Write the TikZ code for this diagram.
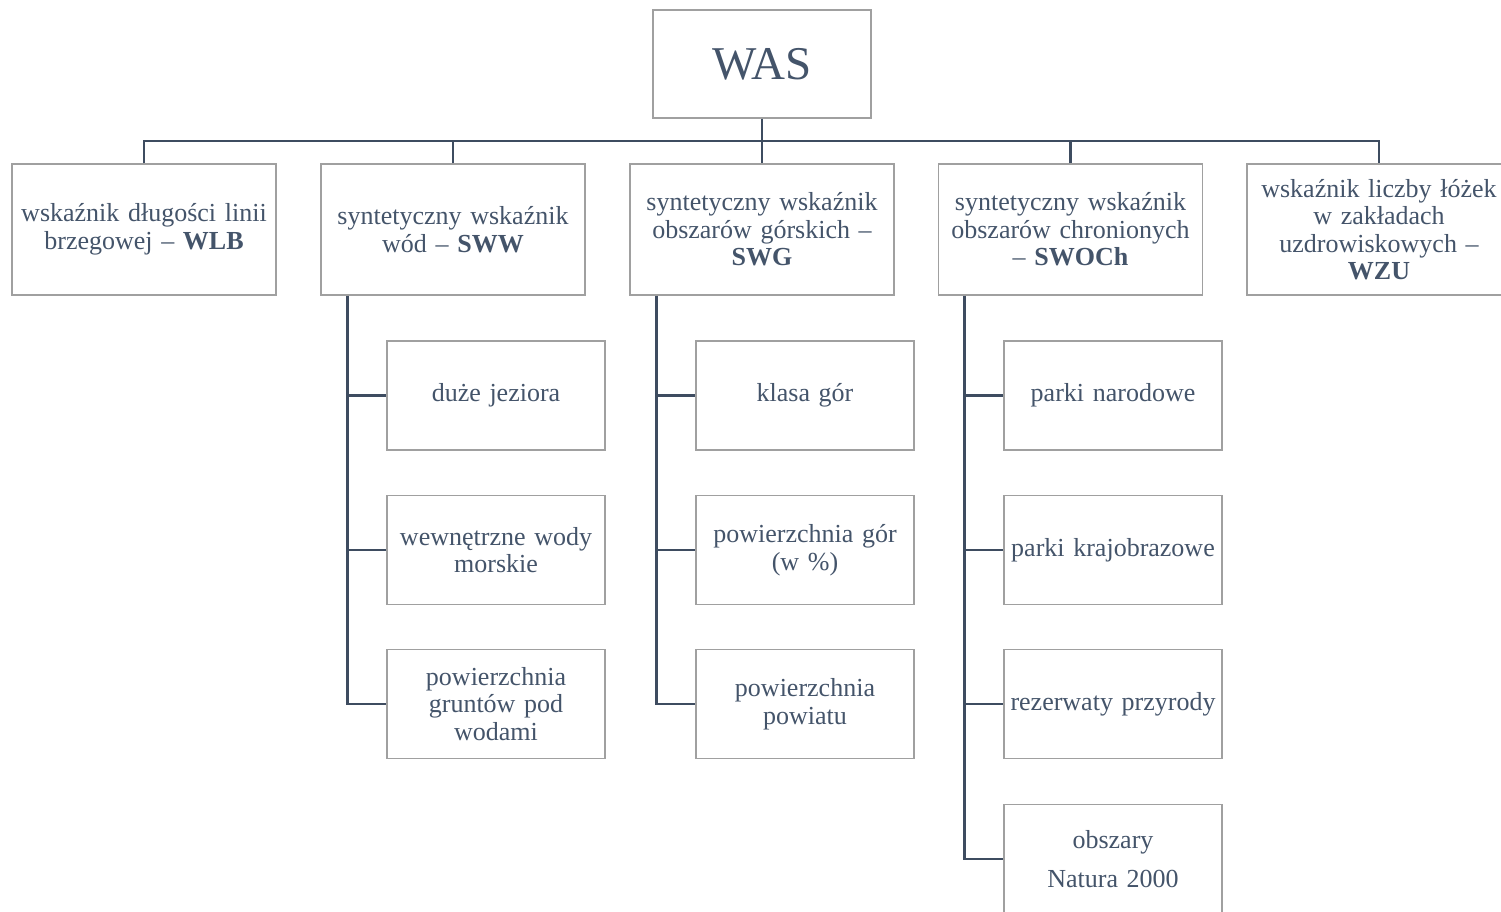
\documentclass[tikz,border=0pt]{standalone}
\usepackage{fontspec}
\setmainfont{Liberation Serif}
\definecolor{txt}{HTML}{44546A}
\definecolor{ln}{HTML}{3E4C60}
\definecolor{bord}{HTML}{A0A0A0}
\begin{document}
\begin{tikzpicture}[x=1pt,y=-1pt,
  box/.style={draw=bord,line width=1.3pt,fill=white,text=txt,align=center,inner sep=0pt,
    font=\fontsize{26}{27.5}\selectfont},
  lone/.style={box,minimum width=264pt,minimum height=131pt,text width=262pt},
  ltwo/.style={box,minimum width=218pt,minimum height=109pt,text width=216pt},
  conn/.style={draw=ln,line width=2.8pt}]
\useasboundingbox (0,0) rectangle (1501,911);
\clip (0,0) rectangle (1501,911);
\node[box,minimum width=218pt,minimum height=108pt,font=\fontsize{47}{50}\selectfont] (was) at (762,64) {WAS};
\node[lone] (b1) at (144,229.5) {wskaźnik długości linii\\brzegowej -- \textbf{WLB}};
\node[lone] (b2) at (453,229.5) {syntetyczny wskaźnik\\wód -- \textbf{SWW}};
\node[lone] (b3) at (762,229.5) {syntetyczny wskaźnik\\obszarów górskich --\\\textbf{SWG}};
\node[lone] (b4) at (1070.5,229.5) {syntetyczny wskaźnik\\obszarów chronionych\\-- \textbf{SWOCh}};
\node[lone] (b5) at (1379,229.5) {wskaźnik liczby łóżek\\w zakładach\\uzdrowiskowych --\\\textbf{WZU}};
\coordinate (bar) at (0,141);
\draw[conn] (b1.north) -- (b1.north |- bar) -- (b5.north |- bar) -- (b5.north);
\draw[conn] (was.south) -- (b3.north);
\draw[conn] (b2.north) -- (b2.north |- bar);
\draw[conn] (b4.north) -- (b4.north |- bar);
% level 2
\node[ltwo] (c21) at (496,395.5) {duże jeziora};
\node[ltwo] (c22) at (496,550) {wewnętrzne wody\\morskie};
\node[ltwo] (c23) at (496,704) {powierzchnia\\gruntów pod\\wodami};
\node[ltwo] (c31) at (805,395.5) {klasa gór};
\node[ltwo] (c32) at (805,550) {powierzchnia gór\\(w \%)};
\node[ltwo] (c33) at (805,704) {powierzchnia\\powiatu};
\node[ltwo] (c41) at (1113,395.5) {parki narodowe};
\node[ltwo] (c42) at (1113,550) {parki krajobrazowe};
\node[ltwo] (c43) at (1113,704) {rezerwaty przyrody};
\node[ltwo] (c44) at (1113,859) {obszary\\[11pt]Natura 2000};
\coordinate (v2) at ([xshift=27pt]b2.south west);
\coordinate (v3) at ([xshift=27pt]b3.south west);
\coordinate (v4) at ([xshift=27pt]b4.south west);
\draw[conn] (v2) |- (c23.west);
\draw[conn] (v2 |- c21.west) -- (c21.west);
\draw[conn] (v2 |- c22.west) -- (c22.west);
\draw[conn] (v3) |- (c33.west);
\draw[conn] (v3 |- c31.west) -- (c31.west);
\draw[conn] (v3 |- c32.west) -- (c32.west);
\draw[conn] (v4) |- (c44.west);
\draw[conn] (v4 |- c41.west) -- (c41.west);
\draw[conn] (v4 |- c42.west) -- (c42.west);
\draw[conn] (v4 |- c43.west) -- (c43.west);
\end{tikzpicture}
\end{document}
